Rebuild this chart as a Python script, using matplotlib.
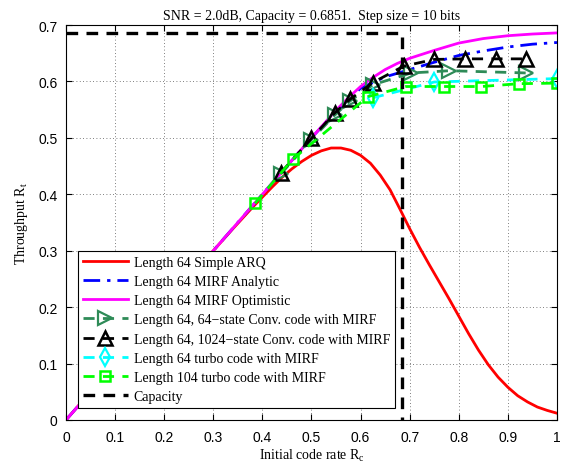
import matplotlib
matplotlib.use("Agg")
import matplotlib.pyplot as plt

# ---------------- data ----------------
capacity = 0.6851

arq_x = [0, 0.1, 0.2, 0.3, 0.34, 0.38, 0.40, 0.42, 0.44, 0.46, 0.48, 0.50, 0.52, 0.54, 0.56, 0.58,
         0.60, 0.62, 0.64, 0.66, 0.68, 0.70, 0.72, 0.74, 0.76, 0.78, 0.80, 0.82, 0.84, 0.86, 0.88,
         0.90, 0.92, 0.94, 0.96, 0.98, 1.0]
arq_y = [0, 0.1, 0.2, 0.3, 0.339, 0.377, 0.395, 0.413, 0.430, 0.445, 0.458, 0.469, 0.477, 0.482,
         0.482, 0.478, 0.469, 0.455, 0.434, 0.408, 0.374, 0.339, 0.306, 0.275, 0.245, 0.215, 0.184,
         0.153, 0.124, 0.098, 0.076, 0.058, 0.043, 0.032, 0.023, 0.017, 0.012]

ana_x = [0, 0.1, 0.2, 0.3, 0.4, 0.5, 0.55, 0.6, 0.65, 0.7, 0.75, 0.8, 0.85, 0.9, 0.95, 1.0]
ana_y = [0, 0.1, 0.2, 0.3, 0.4, 0.5, 0.547, 0.588, 0.608, 0.621, 0.634, 0.646, 0.654, 0.661, 0.666, 0.669]

opt_x = [0, 0.1, 0.2, 0.3, 0.4, 0.5, 0.55, 0.575, 0.6, 0.625, 0.65, 0.675, 0.7, 0.725, 0.75,
         0.8, 0.85, 0.9, 0.95, 1.0]
opt_y = [0, 0.1, 0.2, 0.3, 0.4, 0.5, 0.549, 0.571, 0.591, 0.607, 0.621, 0.632, 0.641, 0.648, 0.655,
         0.668, 0.676, 0.681, 0.684, 0.686]

conv64_x = [0.4375, 0.5, 0.547, 0.578, 0.625, 0.703, 0.781, 0.9375]
conv64_y = [0.436, 0.497, 0.540, 0.565, 0.594, 0.615, 0.619, 0.615]

conv1024_x = [0.4375, 0.5, 0.547, 0.578, 0.625, 0.6875, 0.75, 0.8125, 0.875, 0.9375]
conv1024_y = [0.438, 0.499, 0.544, 0.568, 0.598, 0.627, 0.639, 0.640, 0.640, 0.640]

turbo64_x = [0.625, 0.75, 1.0]
turbo64_y = [0.571, 0.599, 0.605]

turbo104_x = [0.385, 0.4615, 0.615, 0.692, 0.769, 0.846, 0.923, 1.0]
turbo104_y = [0.384, 0.462, 0.573, 0.591, 0.591, 0.591, 0.596, 0.597]

cap_x = [0, capacity, capacity]
cap_y = [capacity, capacity, 0]

labels = ["Length 64 Simple ARQ",
          "Length 64 MIRF Analytic",
          "Length 64 MIRF Optimistic",
          "Length 64, 64\u2212state Conv. code with MIRF",
          "Length 64, 1024\u2212state Conv. code with MIRF",
          "Length 64 turbo code with MIRF",
          "Length 104 turbo code with MIRF",
          "Capacity"]

xticks = [0, 0.1, 0.2, 0.3, 0.4, 0.5, 0.6, 0.7, 0.8, 0.9, 1.0]
xticklabels = ["0", "0.1", "0.2", "0.3", "0.4", "0.5", "0.6", "0.7", "0.8", "0.9", "1"]
yticks = [0, 0.1, 0.2, 0.3, 0.4, 0.5, 0.6, 0.7]
yticklabels = ["0", "0.1", "0.2", "0.3", "0.4", "0.5", "0.6", "0.7"]

# ---------------- plot ----------------
serif = ["Liberation Serif", "DejaVu Serif"]
sans = ["Liberation Sans", "DejaVu Sans"]

fig = plt.figure(figsize=(5.66, 4.64), dpi=100)
ax = fig.add_axes([66 / 566, 1 - 421 / 464, (557 - 66) / 566, (421 - 26) / 464])

lw = 2.0
ax.plot(arq_x, arq_y, '-', color='#ff0000', lw=lw, label=labels[0])
ax.plot(ana_x, ana_y, '-.', color='#0000ff', lw=lw, label=labels[1], dashes=(6, 2.5, 1.2, 2.5))
ax.plot(opt_x, opt_y, '-', color='#ff00ff', lw=lw, label=labels[2])
ax.plot(conv64_x, conv64_y, '--', color='#2e8b57', lw=lw, marker='>', ms=10, mfc='none',
        mew=1.6, label=labels[3], dashes=(4, 3))
ax.plot(conv1024_x, conv1024_y, '--', color='#000000', lw=lw, marker='^', ms=10.5, mfc='none',
        mew=1.8, label=labels[4], dashes=(4, 3))
ax.plot(turbo64_x, turbo64_y, '--', color='#00ffff', lw=lw, marker='d', ms=9, mfc='none',
        mew=1.6, label=labels[5], dashes=(4, 3))
ax.plot(turbo104_x, turbo104_y, '--', color='#00ff00', lw=lw, marker='s', ms=7, mfc='none',
        mew=1.8, label=labels[6], dashes=(4, 3))
ax.plot(cap_x, cap_y, '--', color='#000000', lw=2.4, label=labels[7], dashes=(3.5, 2.5))

ax.set_xlim(0, 1)
ax.set_ylim(0, 0.7)
ax.set_xticks(xticks)
ax.set_xticklabels(xticklabels, fontfamily=sans, fontsize=10)
ax.set_yticks(yticks)
ax.set_yticklabels(yticklabels, fontfamily=sans, fontsize=10)
ax.tick_params(direction='in', top=True, right=True, length=4, width=0.8)
ax.tick_params(axis='x', pad=7)
ax.tick_params(axis='y', pad=6)
ax.grid(True, linestyle=(0, (1, 3)), color='#555555', lw=0.6)
for s in ax.spines.values():
    s.set_linewidth(0.8)

ax.set_title("SNR = 2.0dB, Capacity = 0.6851.  Step size = 10 bits",
             fontfamily=serif, fontsize=10, pad=4)
ax.set_xlabel(r"Initial code rate R$_{\mathregular{c}}$", fontfamily=serif, fontsize=10, labelpad=2)
ax.set_ylabel(r"Throughput R$_{\mathregular{t}}$", fontfamily=serif, fontsize=10, labelpad=6)

leg = ax.legend(loc='lower left', bbox_to_anchor=(0.025, 0.03), prop={'family': serif, 'size': 10},
                frameon=True, fancybox=False, edgecolor='black', framealpha=1,
                handlelength=3.2, handletextpad=0.45, labelspacing=0.45, borderpad=0.35,
                borderaxespad=0)
leg.get_frame().set_linewidth(0.8)

fig.savefig("out.png", dpi=100)
